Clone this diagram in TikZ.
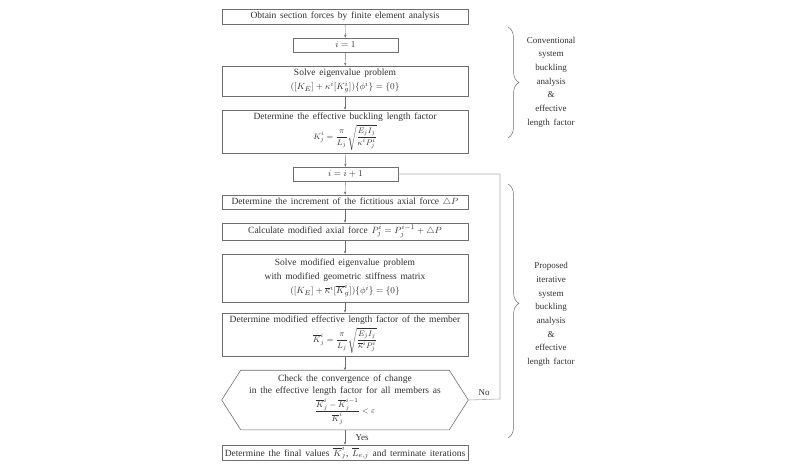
\documentclass[tikz,border=0pt]{standalone}
\usepackage{amsmath}
\usepackage{amsfonts}
\usepackage{fontspec}
\setmainfont{Liberation Serif}[WordSpace=1.6]
\usetikzlibrary{arrows.meta,shapes,positioning,decorations.pathreplacing}

\definecolor{boxgray}{HTML}{6E6E6E}
\definecolor{loopgray}{HTML}{B0B0B0}
\definecolor{txtgray}{HTML}{303030}

\newcommand{\formsize}{\fontsize{8.5}{10}\selectfont}

\tikzset{
    stepbox/.style={draw=boxgray, line width=0.6pt, minimum width=246pt, inner sep=0pt,
        align=center, text=txtgray, font=\fontsize{9.5}{14}\selectfont},
    countbox/.style={stepbox, minimum width=105pt},
    flow/.style={-{Stealth[length=3pt,width=2.4pt]}, draw=boxgray, line width=0.4pt},
    loopline/.style={draw=loopgray, line width=0.6pt},
    bracetext/.style={align=center, text=txtgray, font=\fontsize{9}{13.7}\selectfont},
    bracemark/.style={draw=boxgray, line width=0.5pt, decorate, decoration={brace, amplitude=11pt}}
}

\begin{document}
\begin{tikzpicture}[x=1pt, y=-1pt]
    \useasboundingbox (0,0) rectangle (800,469);

    % conventional analysis
    \node[stepbox, minimum height=15pt] (obtain) at (345,16.5) {Obtain section forces by finite element analysis};
    \node[countbox, minimum height=14pt] (init) at (345.5,45) {$i=1$};
    \node[stepbox, minimum height=30pt] (eigen) at (345,81) {Solve eigenvalue problem\\ $([K_E]+\kappa^i[K_g^i])\{\phi^i\}=\{0\}$};
    \node[stepbox, minimum height=43pt] (klen) at (345,131.5) {Determine the effective buckling length factor\\[2.5pt]
        {\formsize$\displaystyle K_j^i=\frac{\pi}{L_j}\sqrt{\frac{E_jI_j}{\kappa^iP_j^i}}$}};

    % iterative part
    \node[countbox, minimum height=14pt] (next) at (345.5,174) {$i=i+1$};
    \node[stepbox, minimum height=14pt] (incr) at (345,202) {Determine the increment of the fictitious axial force $\triangle P$};
    \node[stepbox, minimum height=17pt] (axial) at (345,231.5) {Calculate modified axial force $P_j^i=P_j^{i-1}+\triangle P$};
    \node[stepbox, minimum height=48pt] (meigen) at (345,278) {Solve modified eigenvalue problem\\ with modified geometric stiffness matrix\\ $([K_E]+\overline{\kappa}^i[\overline{K}_g^i])\{\phi^i\}=\{0\}$};
    \node[stepbox, minimum height=43pt] (mklen) at (345,334.5) {Determine modified effective length factor of the member\\[2.5pt]
        {\formsize$\displaystyle\overline{K}_j^i=\frac{\pi}{L_j}\sqrt{\frac{E_jI_j}{\overline{\kappa}^iP_j^i}}$}};

    % convergence check, drawn as a hexagon round the node
    \node[stepbox, draw=none, minimum height=59pt] (check) at (345,400) {Check the convergence of change\\[-2pt] in the effective length factor for all members as\\[1.5pt]
        {\formsize$\displaystyle\frac{\overline{K}_j^i-\overline{K}_j^{i-1}}{\overline{K}_j^i}<\varepsilon$}};
    \draw [draw=boxgray, line width=0.6pt] (check.west) -- ([xshift=19pt]check.north west) -- ([xshift=-19pt]check.north east)
        -- (check.east) -- ([xshift=-19pt]check.south east) -- ([xshift=19pt]check.south west) -- cycle;

    \node[stepbox, minimum height=15pt] (final) at (345,452.5) {Determine the final values $\overline{K}_j^i$, $\overline{L}_{e,j}$ and terminate iterations};

    % arrows down the chart
    \foreach \a/\b in {obtain/init, init/eigen, eigen/klen, klen/next, next/incr, incr/axial, axial/meigen, meigen/mklen, mklen/check}
        \draw [flow] (\a) -- (\b);
    \draw [flow] (check) -- node[right=7pt, text=txtgray, font=\fontsize{9}{11}\selectfont] (yes) {Yes} (final);

    % back to i = i+1
    \coordinate (looptop) at (500,174);
    \coordinate (loopbot) at (500,399);
    \draw [loopline] (next.east) -- (looptop) -- (loopbot)
        -- node[above, text=txtgray, font=\fontsize{9}{11}\selectfont] (no) {No} (check.east);

    % braces on the right
    \coordinate (convtop) at (508,27);
    \coordinate (convbot) at (508,138);
    \draw [bracemark] (convtop) -- (convbot);
    \node[bracetext] (convlabel) at (551,82) {Conventional\\ system\\ buckling\\ analysis\\ \&\\ effective\\ length factor};

    \coordinate (proptop) at (508,184);
    \coordinate (propbot) at (508,438);
    \draw [bracemark, decoration={aspect=0.47}] (proptop) -- (propbot);
    \node[bracetext] (proplabel) at (551,314.5) {Proposed\\ iterative\\ system\\ buckling\\ analysis\\ \&\\ effective\\ length factor};
\end{tikzpicture}
\end{document}
